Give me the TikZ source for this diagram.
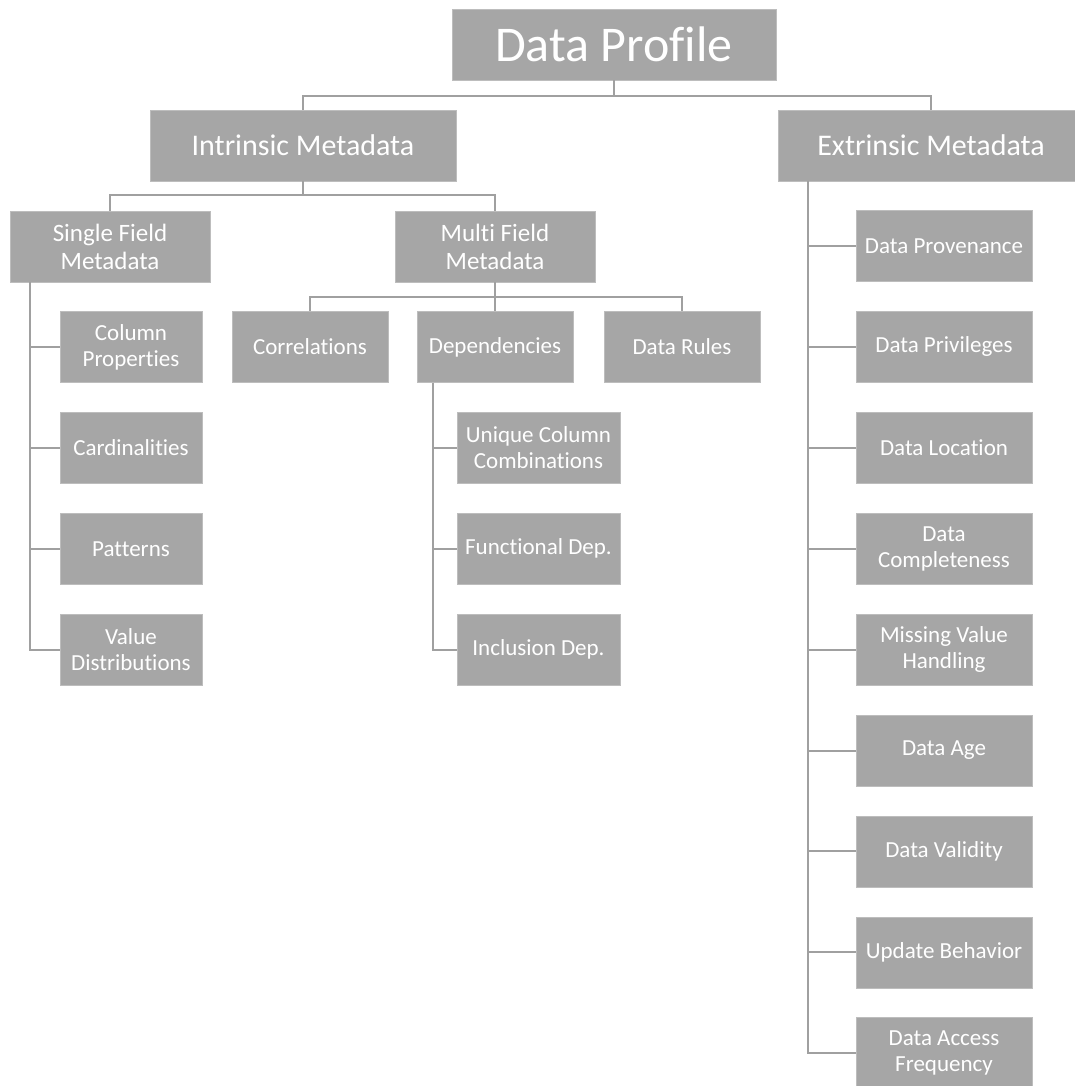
\documentclass[tikz,border=0pt]{standalone}
\usepackage{fontspec}
\setmainfont{Carlito}[Ligatures={NoCommon,NoRare,NoContextual}]
\definecolor{boxfill}{HTML}{A6A6A6}
\definecolor{boxedge}{HTML}{BDBDBD}
\definecolor{linkgray}{HTML}{A0A0A0}
\tikzset{
  box/.style={rectangle, fill=boxfill, draw=boxedge, line width=0.6pt,
    text=white, align=center, inner sep=0pt, minimum height=71pt},
  rootbox/.style={box, font=\fontsize{50}{56}\selectfont},
  topbox/.style={box, font=\fontsize{30}{34}\selectfont},
  midbox/.style={box, font=\fontsize{25}{28}\selectfont, minimum width=200pt},
  leafbox/.style={box, font=\fontsize{23}{26}\selectfont},
  conn/.style={draw=linkgray, line width=2pt}
}
\begin{document}
\begin{tikzpicture}[x=1pt, y=-1pt]
\useasboundingbox (0,0) rectangle (1075,1086);

% root and first level
\node[rootbox, minimum width=324pt] (dp) at (614,44.5) {Data Profile};
\node[topbox, minimum width=306pt] (intr) at (303,145.5) {Intrinsic Metadata};
\node[topbox, minimum width=306pt] (extr) at (931,145.5) {Extrinsic Metadata};

% intrinsic branch
\node[midbox] (sfm) at (110,246.5) {Single Field\\Metadata};
\node[midbox] (mfm) at (495,246.5) {Multi Field\\Metadata};

% single field leaves
\node[leafbox, minimum width=142pt] (colp) at (131,347) {Column\\Properties};
\node[leafbox, minimum width=142pt] (card) at (131,447.9) {Cardinalities};
\node[leafbox, minimum width=142pt] (patt) at (131,548.8) {Patterns};
\node[leafbox, minimum width=142pt] (vdist) at (131,649.7) {Value\\Distributions};

% multi field leaves
\node[leafbox, minimum width=156pt] (corr) at (310,347) {Correlations};
\node[leafbox, minimum width=156pt] (deps) at (495,347) {Dependencies};
\node[leafbox, minimum width=156pt] (rules) at (682,347) {Data Rules};

% dependency kinds
\node[leafbox, minimum width=163pt] (ucc) at (538.5,447.9) {Unique Column\\Combinations};
\node[leafbox, minimum width=163pt] (fd) at (538.5,548.8) {Functional Dep.};
\node[leafbox, minimum width=163pt] (ind) at (538.5,649.7) {Inclusion Dep.};

% extrinsic leaves
\node[leafbox, minimum width=176pt] (prov) at (944,246) {Data Provenance};
\node[leafbox, minimum width=176pt] (priv) at (944,346.9) {Data Privileges};
\node[leafbox, minimum width=176pt] (loc) at (944,447.8) {Data Location};
\node[leafbox, minimum width=176pt] (compl) at (944,548.7) {Data\\Completeness};
\node[leafbox, minimum width=176pt] (miss) at (944,649.6) {Missing Value\\Handling};
\node[leafbox, minimum width=176pt] (age) at (944,750.5) {Data Age};
\node[leafbox, minimum width=176pt] (valid) at (944,851.4) {Data Validity};
\node[leafbox, minimum width=176pt] (upd) at (944,952.3) {Update Behavior};
\node[leafbox, minimum width=176pt] (freq) at (944,1053.2) {Data Access\\Frequency};

% bus connectors
\draw[conn] (dp.south) -- ++(0,15.5) -| (intr.north);
\draw[conn] (dp.south) -- ++(0,15.5) -| (extr.north);
\draw[conn] (intr.south) -- ++(0,14) -| (sfm.north);
\draw[conn] (intr.south) -- ++(0,14) -| (mfm.north);
\draw[conn] (mfm.south) -- ++(0,15) -| (corr.north);
\draw[conn] (mfm.south) -- ++(0,15) -| (deps.north);
\draw[conn] (mfm.south) -- ++(0,15) -| (rules.north);

% side rails
\foreach \n in {colp,card,patt,vdist}
  \draw[conn] ([xshift=20pt]sfm.south west) |- (\n.west);
\foreach \n in {ucc,fd,ind}
  \draw[conn] ([xshift=16pt]deps.south west) |- (\n.west);
\foreach \n in {prov,priv,loc,compl,miss,age,valid,upd,freq}
  \draw[conn] ([xshift=30pt]extr.south west) |- (\n.west);
\end{tikzpicture}
\end{document}
